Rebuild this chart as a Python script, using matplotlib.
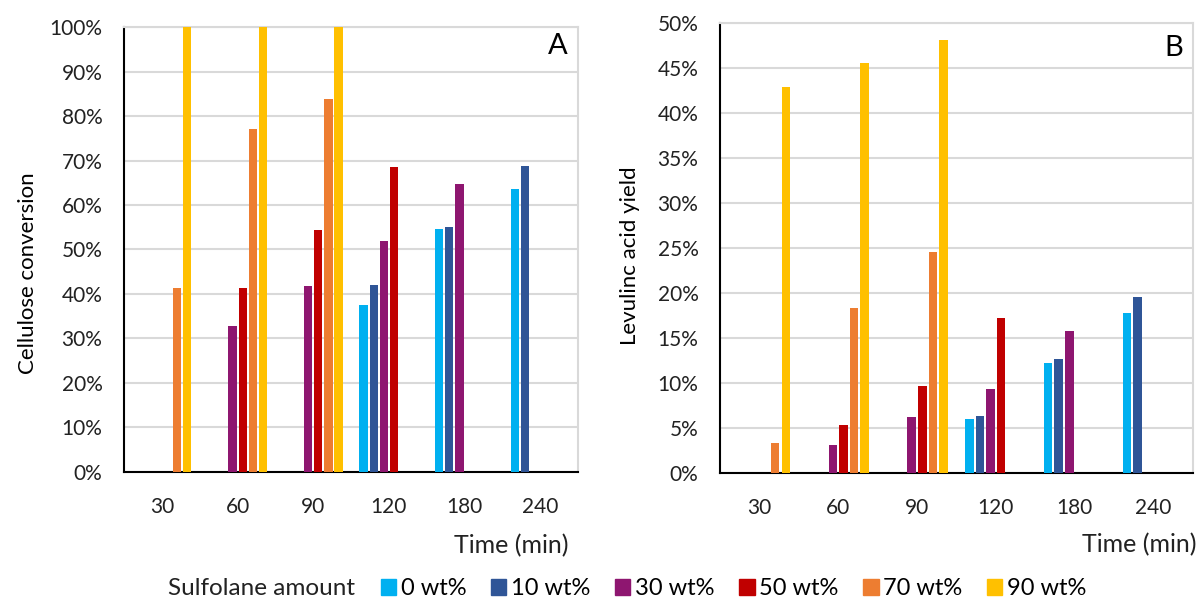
import matplotlib
matplotlib.use("Agg")
import matplotlib.pyplot as plt
from matplotlib.patches import Patch
import numpy as np

plt.rcParams['font.family'] = ['Lato', 'DejaVu Sans']

times = ['30', '60', '90', '120', '180', '240']
series = ['0 wt%', '10 wt%', '30 wt%', '50 wt%', '70 wt%', '90 wt%']
colors = ['#00B0F0', '#2F5597', '#8E1670', '#C00000', '#ED7D31', '#FFC000']

# cellulose conversion (%), one list per sulfolane amount, 0 = not measured
conv_0 = [0, 0, 0, 37.4, 54.7, 63.6]
conv_10 = [0, 0, 0, 41.9, 55.0, 68.9]
conv_30 = [0, 32.8, 41.7, 51.8, 64.8, 0]
conv_50 = [0, 41.4, 54.4, 68.6, 0, 0]
conv_70 = [41.4, 77.2, 83.8, 0, 0, 0]
conv_90 = [100, 100, 100, 0, 0, 0]

# levulinic acid yield (%)
la_0 = [0, 0, 0, 6.0, 12.2, 17.8]
la_10 = [0, 0, 0, 6.3, 12.7, 19.6]
la_30 = [0, 3.05, 6.2, 9.3, 15.8, 0]
la_50 = [0, 5.3, 9.6, 17.2, 0, 0]
la_70 = [3.3, 18.3, 24.5, 0, 0, 0]
la_90 = [42.9, 45.6, 48.1, 0, 0, 0]

conv = [conv_0, conv_10, conv_30, conv_50, conv_70, conv_90]
la = [la_0, la_10, la_30, la_50, la_70, la_90]

fig = plt.figure(figsize=(12.02, 6.03), dpi=100)
axA = fig.add_axes([0.1032, 0.2178, 0.3777, 0.7369])
axB = fig.add_axes([0.599, 0.2161, 0.3933, 0.7453])

x = np.arange(len(times))
pitch = 0.134
bw = 0.108

def draw(ax, data, ymax, step, ylabel, ylab_pos, letter, letter_pos, time_x, time_y):
    for i, vals in enumerate(data):
        ax.bar(x + (i - 2.5) * pitch, vals, width=bw, color=colors[i], zorder=3)
    ax.set_xlim(-0.5, len(times) - 0.5)
    ax.set_ylim(0, ymax)
    ticks = np.arange(0, ymax + 0.01, step)
    ax.set_yticks(ticks)
    ax.set_yticklabels([f'{int(t)}%' for t in ticks], fontsize=15, color='#222222')
    ax.set_xticks(x)
    ax.set_xticklabels(times, fontsize=15, color='#222222')
    ax.tick_params(axis='x', length=0, pad=18)
    ax.tick_params(axis='y', length=0, pad=15.5)
    ax.grid(axis='y', color='#D9D9D9', linewidth=1.5, zorder=0)
    for s in ['top', 'right']:
        ax.spines[s].set_color('#D9D9D9')
        ax.spines[s].set_linewidth(1.5)
    for s in ['left', 'bottom']:
        ax.spines[s].set_color('black')
        ax.spines[s].set_linewidth(1.5)
    ax.set_ylabel(ylabel, fontsize=16)
    ax.yaxis.set_label_coords(*ylab_pos)
    ax.text(letter_pos[0], letter_pos[1], letter, transform=ax.transAxes,
            ha='right', va='center', fontsize=21)
    ax.text(time_x, time_y, 'Time (min)', transform=ax.transAxes,
            ha='right', va='center', fontsize=18, color='#222222')

draw(axA, conv, 100, 10, 'Cellulose conversion', (-0.189, 0.446),
     'A', (0.978, 0.958), 0.978, -0.166)
draw(axB, la, 50, 5, 'Levulinc acid yield', (-0.170, 0.483),
     'B', (0.979, 0.945), 1.009, -0.160)

handles = [Patch(color=c) for c in colors]
fig.text(0.1398, 0.024, 'Sulfolane amount', fontsize=17.5, va='center', color='#222222')
fig.legend(handles, series, loc='center left', bbox_to_anchor=(0.317, 0.024), ncol=6,
           frameon=False, fontsize=17, handlelength=0.64, handleheight=0.64,
           handletextpad=0.2, columnspacing=1.05, borderpad=0, borderaxespad=0)

fig.savefig('out.png', dpi=100)
